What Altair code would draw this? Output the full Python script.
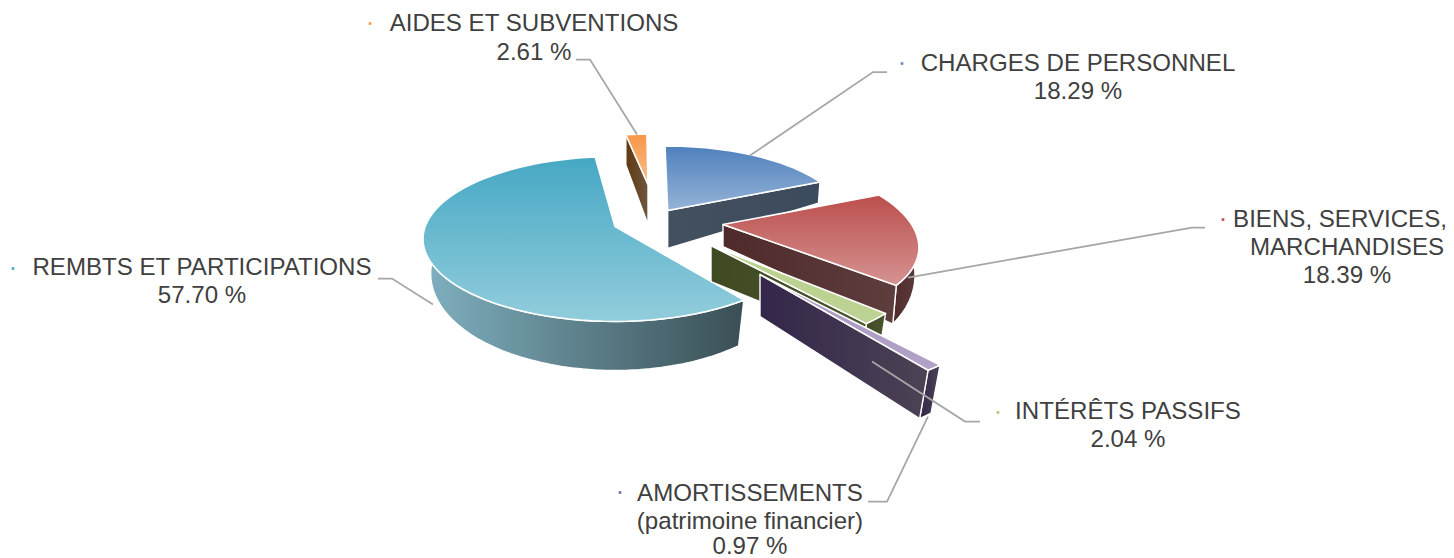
import math
import altair as alt

# ---- chart values ----
names = ["CHARGES DE PERSONNEL", "BIENS, SERVICES, MARCHANDISES", "INTÉRÊTS PASSIFS",
         "AMORTISSEMENTS (patrimoine financier)", "REMBTS ET PARTICIPATIONS", "AIDES ET SUBVENTIONS"]
shares = [18.29, 18.39, 2.04, 0.97, 57.70, 2.61]
label_lines = [["CHARGES DE PERSONNEL", "18.29 %"],
               ["BIENS, SERVICES,", "MARCHANDISES", "18.39 %"],
               ["INTÉRÊTS PASSIFS", "2.04 %"],
               ["AMORTISSEMENTS", "(patrimoine financier)", "0.97 %"],
               ["REMBTS ET PARTICIPATIONS", "57.70 %"],
               ["AIDES ET SUBVENTIONS", "2.61 %"]]

# ---- layout and style (image pixels) ----
OX, OY = 8, 8
W, H = 1446, 553
F = 1438 / W          # the page shrinks the svg to the 1438px wide container
A, B, K = 187.0, 80.6, 0.151
START = 0.0
# tip x, tip y, scale, depth at tip, depth slope, lower ring shrink
geom = [(667.7, 209, 0.92, 38, 41, 0.01),
        (723, 223, 1.02, 22, 27, 0.02),
        (711, 244, 1.13, 36, -21, 0.02),
        (760, 273, 1.31, 42, 8, 0.05),
        (615, 225, 1.0, 32, 17, 0.04),
        (648, 183, 0.72, 40, 10, 0.0)]
# small perspective corrections of each slice
twist = [(-1, 0), (-2.5, -4), (0, 0), (0, 0), (0.5, 2.5), (-0.5, -0.5)]
x_scale = [1.03, 1, 1, 1, 1.015, 1.1]
rim_dy = [0, 5, 0, 0, 0, 0]
skew = [0, 0.00076, 0, 0, 0, 0]
top_cols = [("#4F81BD", "#95B3D7"), ("#BB4F4C", "#D59392"), ("#BAD08E", "#BDD393"),
            ("#A896C2", "#B2A2C7"), ("#46A8C4", "#92CDDC"), ("#F79646", "#FAC090")]
wall_stops = [("#42505F", "#3C4A5D"), ("#4F2A2B", "#5E3D3D"), ("#3F4A22", "#4A5530"),
              ("#33264A", "#4C4355"), ("#7FB0C0", "#3A4F55"), ("#5F3A12", "#6D5640")]
LEADER = "#A6A6A6"
TEXT = "#404040"
FONT = "Liberation Sans"
PROJ = dict(type="identity", scale=1, translate=[0, 0])


def px(x):
    return (x - OX) / F


def py(y):
    return (y - OY) / F


def disk(t):
    a = math.radians(t)
    return math.sin(a), math.cos(a)


def rim(i, t):
    x0, y0, s, *_ = geom[i]
    u, v = disk(t)
    w = 1 + K * v
    dy = -s * B * v / w + rim_dy[i]
    dx = s * x_scale[i] * A * u / w * (1 + skew[i] * dy)
    return x0 + dx, y0 + dy


def low(i, t):
    x0, y0, s, d0, ds, sh = geom[i]
    x, y = rim(i, t)
    _, v = disk(t)
    return x0 + (x - x0) * (1 - sh), y + d0 - ds * v


def poly(points):
    ring = [[px(p[0]), py(p[1])] for p in points]
    ring.append(ring[0])
    return {"type": "Feature", "properties": {}, "geometry": {"type": "Polygon", "coordinates": [ring]}}


def line(points):
    return {"type": "Feature", "properties": {},
            "geometry": {"type": "LineString", "coordinates": [[px(p[0]), py(p[1])] for p in points]}}


def grad(c0, c1, vertical):
    return alt.Gradient(gradient="linear", x1=0, x2=0 if vertical else 1, y1=0, y2=1 if vertical else 0,
                        stops=[alt.GradientStop(offset=0, color=c0), alt.GradientStop(offset=1, color=c1)])


def shape(feature, fill, sw=1.4):
    return alt.Chart(alt.Data(values=[feature])).mark_geoshape(
        fill=fill, stroke="white", strokeWidth=sw, strokeJoin="round").project(**PROJ)


def steps(a, b):
    n = max(2, int(abs(b - a) / 3))
    return [a + (b - a) * k / n for k in range(n + 1)]


angles = []
acc = START
for p, (ta, tb) in zip(shares, twist):
    angles.append((acc + ta, acc + p * 3.6 + tb))
    acc += p * 3.6

layers = []


def cut_face(i, t):
    x0, y0 = geom[i][0], geom[i][1]
    d0 = geom[i][3]
    pts = [(x0, y0), rim(i, t), low(i, t), (x0, y0 + d0)]
    layers.append(shape(poly(pts), grad(*wall_stops[i], False)))


def outer_wall(i, a, b):
    ts = steps(a, b)
    pts = [rim(i, t) for t in ts] + [low(i, t) for t in reversed(ts)]
    layers.append(shape(poly(pts), grad(*wall_stops[i], False)))


def top_face(i):
    a, b = angles[i]
    x0, y0 = geom[i][0], geom[i][1]
    pts = [(x0, y0)] + [rim(i, t) for t in steps(a, b)]
    layers.append(shape(poly(pts), grad(*top_cols[i], True), 1.6))


# back to front
outer_wall(4, angles[4][0], 285); top_face(4)
cut_face(0, angles[0][1]); top_face(0)
cut_face(5, angles[5][0]); top_face(5)
outer_wall(1, 88, angles[1][1]); cut_face(1, angles[1][1]); top_face(1)
outer_wall(2, *angles[2]); cut_face(2, angles[2][1]); top_face(2)
outer_wall(3, *angles[3]); cut_face(3, angles[3][1]); top_face(3)

# leader lines
leaders = [[(887, 70.5), (873, 70.5), (750, 154)],
           [(1205, 226), (1192, 226), (908, 276)],
           [(980, 420), (965, 420), (872, 360)],
           [(868, 500), (887, 500), (928, 415)],
           [(378, 277), (392, 277), (433, 303)],
           [(576, 58), (590, 58), (637, 133)]]
for pts in leaders:
    layers.append(alt.Chart(alt.Data(values=[line(pts)])).mark_geoshape(
        filled=False, stroke=LEADER, strokeWidth=1.8).project(**PROJ))

# labels (the first line of the right-hand label is nudged to stay inside the page)
label_pos = [([1078, 1078], [63, 91]), ([1340, 1347, 1347], [219, 247, 275]), ([1128, 1128], [411, 439]),
             ([750, 750, 750], [493, 521, 546]), ([202, 202], [267, 295]), ([534, 534], [23, 52])]
rows = []
for lines_, (xs, ys) in zip(label_lines, label_pos):
    for s, x, y in zip(lines_, xs, ys):
        rows.append({"t": s, "x": px(x), "y": py(y)})
layers.append(alt.Chart(alt.Data(values=rows)).mark_text(
    font=FONT, fontSize=24.1 / F, color=TEXT, align="center", baseline="middle").encode(
    x=alt.X("x:Q", scale=None), y=alt.Y("y:Q", scale=None), text="t:N"))

# small legend dots
dots = [(902, 62), (1223, 218), (998, 411), (620, 491), (13, 267), (370, 22)]
dot_cols = ["#5B8BC6", "#B5504F", "#A8C47A", "#7A68A6", "#46A8C4", "#F79646"]
layers.append(alt.Chart(alt.Data(values=[{"x": px(x), "y": py(y), "c": c} for (x, y), c in zip(dots, dot_cols)])).mark_square(
    size=7, opacity=1).encode(
    x=alt.X("x:Q", scale=None), y=alt.Y("y:Q", scale=None), color=alt.Color("c:N", scale=None, legend=None)))

chart = alt.layer(*layers).properties(
    width=W, height=H, padding=0, autosize=alt.AutoSizeParams(type="none")
).configure_view(stroke=None)
chart.save("out.html", embed_options={"renderer": "svg", "actions": False})
